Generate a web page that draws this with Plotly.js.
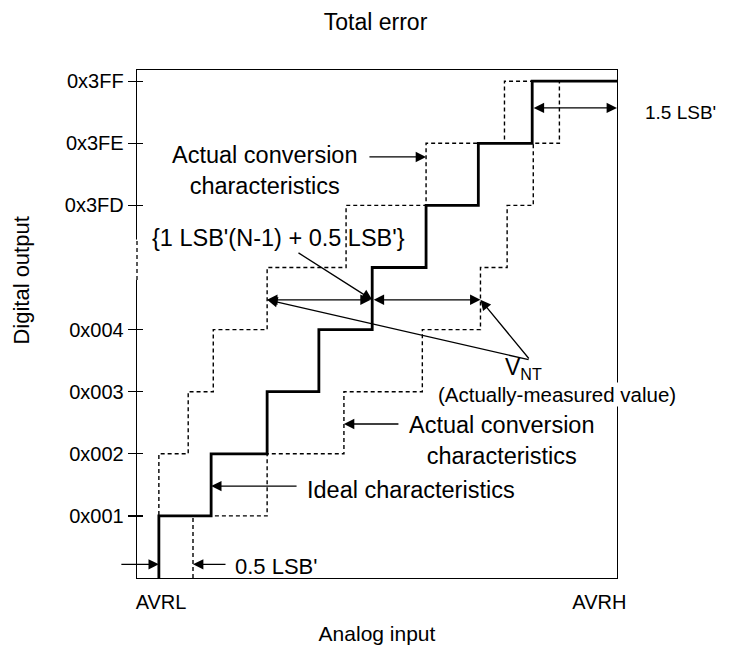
<!DOCTYPE html>
<html>
<head>
<meta charset="utf-8">
<script src="https://cdn.plot.ly/plotly-3.0.1.min.js"></script>
<style>html,body{margin:0;padding:0;background:#fff;}#chart{width:733px;height:658px;}</style>
</head>
<body>
<div id="chart"></div>
<script>
// ---- data (x in LSB' units from AVRL, y in output code levels) ----
const levels = [0, 1, 2, 3, 4, 5, 6, 7, 8];
const idealX = [0.41, 1.39, 2.44, 3.41, 4.41, 5.42, 6.40, 7.41, 9];
const actualUpperX = [0.41, 0.41, 0.96, 1.43, 2.44, 3.92, 5.42, 6.89, 9];
const actualLowerX = [1.05, 2.44, 3.88, 5.35, 6.44, 6.94, 7.43, 7.92, 9];
const yTickVals = [1, 2, 3, 4, 6, 7, 8];
const yTickText = ['0x001', '0x002', '0x003', '0x004', '0x3FD', '0x3FE', '0x3FF'];
const xTickVals = [0.45, 8.67];
const xTickText = ['AVRL', 'AVRH'];

const FONT = 'Liberation Sans, Arial, sans-serif';
const dashStyle = '4px,3px';
function f(size) { return {family: FONT, size: size, color: '#000'}; }

const traces = [
  {x: actualUpperX, y: levels, mode: 'lines', line: {shape: 'vh', color: '#000', width: 1.4, dash: dashStyle}, hoverinfo: 'skip'},
  {x: actualLowerX, y: levels, mode: 'lines', line: {shape: 'vh', color: '#000', width: 1.4, dash: dashStyle}, hoverinfo: 'skip'},
  {x: idealX, y: levels, mode: 'lines', line: {shape: 'vh', color: '#000', width: 2.8}, hoverinfo: 'skip'}
];

const AS = 1.6;
const arrowBase = {showarrow: true, arrowhead: 2, arrowsize: AS, arrowwidth: 1.3, arrowcolor: '#000', standoff: 0, startstandoff: 0, text: ''};
const dbl = {arrowside: 'end+start', startarrowhead: 2, startarrowsize: AS};
const vntY = 4.48;
const annotations = [
  // double arrows around the 4 -> 5 transition
  Object.assign({}, arrowBase, dbl, {x: actualUpperX[4], y: vntY, ax: idealX[4], ay: vntY, axref: 'x', ayref: 'y'}),
  Object.assign({}, arrowBase, dbl, {x: actualLowerX[4], y: vntY, ax: idealX[4], ay: vntY, axref: 'x', ayref: 'y'}),
  // 1.5 LSB' arrow
  Object.assign({}, arrowBase, dbl, {x: 9, y: 7.57, ax: idealX[7], ay: 7.57, axref: 'x', ayref: 'y'}),
  // V_NT pointers
  Object.assign({}, arrowBase, {x: actualUpperX[4], y: vntY, ax: 7.37, ay: 3.51, axref: 'x', ayref: 'y'}),
  Object.assign({}, arrowBase, {x: actualLowerX[4], y: vntY, ax: 7.37, ay: 3.51, axref: 'x', ayref: 'y'}),
  // {1 LSB'(N-1)+0.5 LSB'} pointer
  Object.assign({}, arrowBase, {x: idealX[4], y: vntY, ax: 3.0, ay: 5.25, axref: 'x', ayref: 'y'}),
  // upper actual conversion pointer
  Object.assign({}, arrowBase, {x: actualUpperX[6], y: 6.78, ax: 4.33, ay: 6.78, axref: 'x', ayref: 'y'}),
  // lower actual conversion pointer
  Object.assign({}, arrowBase, {x: actualLowerX[2], y: 2.48, ax: 4.93, ay: 2.48, axref: 'x', ayref: 'y'}),
  // ideal pointer
  Object.assign({}, arrowBase, {x: idealX[1], y: 1.48, ax: 3.02, ay: 1.48, axref: 'x', ayref: 'y'}),
  // 0.5 LSB' pointers
  Object.assign({}, arrowBase, {x: idealX[0], y: 0.22, ax: -39, ay: 0}),
  Object.assign({}, arrowBase, {x: actualLowerX[0], y: 0.22, ax: 34, ay: 0}),
  // texts
  {x: 2.40, y: 6.56, xref: 'x', yref: 'y', xanchor: 'center', text: 'Actual conversion<br>characteristics', showarrow: false, font: f(23.5)},
  {x: 0.24, y: 5.48, xref: 'x', yref: 'y', xanchor: 'left', text: "{1 LSB'(N-1) + 0.5 LSB'}", showarrow: false, font: f(23.5)},
  {x: 6.87, y: 3.37, xref: 'x', yref: 'y', xanchor: 'left', text: 'V<sub>NT</sub>', showarrow: false, font: f(23)},
  {x: 7.87, y: 2.95, xref: 'x', yref: 'y', xanchor: 'center', text: '(Actually-measured value)', showarrow: false, bgcolor: '#fff', borderpad: 0, font: f(20.5)},
  {x: 6.85, y: 2.22, xref: 'x', yref: 'y', xanchor: 'center', text: 'Actual conversion<br>characteristics', showarrow: false, font: f(23.5)},
  {x: 3.15, y: 1.42, xref: 'x', yref: 'y', xanchor: 'left', text: 'Ideal characteristics', showarrow: false, font: f(23.5)},
  {x: 1.80, y: 0.19, xref: 'x', yref: 'y', xanchor: 'left', text: "0.5 LSB'", showarrow: false, font: f(22)},
  {x: 1.054, y: 7.49, xref: 'paper', yref: 'y', xanchor: 'left', text: "1.5 LSB'", showarrow: false, font: f(19)},
  // y axis title
  {x: -0.24, y: 0.585, xref: 'paper', yref: 'paper', xanchor: 'center', yanchor: 'middle', text: 'Digital output', textangle: -90, showarrow: false, font: f(22)}
];

const shapes = [
  {type: 'line', xref: 'paper', yref: 'y', x0: 0, x1: 0, y0: 4.80, y1: 5.45, line: {color: '#fff', width: 4}, layer: 'above'},
  {type: 'line', xref: 'paper', yref: 'y', x0: 0, x1: 0, y0: 4.80, y1: 5.45, line: {color: '#000', width: 1.3, dash: dashStyle}, layer: 'above'}
];

const layout = {
  width: 733, height: 658,
  margin: {l: 137, r: 116, t: 70, b: 80},
  paper_bgcolor: '#fff', plot_bgcolor: '#fff',
  showlegend: false,
  font: f(21),
  title: {text: 'Total error', x: 0.497, xref: 'paper', y: 0.967, yref: 'container', yanchor: 'middle', font: f(23)},
  xaxis: {
    range: [0, 9], showgrid: false, zeroline: false,
    showline: true, mirror: true, linecolor: '#000', linewidth: 1.3,
    tickmode: 'array', tickvals: xTickVals, ticktext: xTickText, ticks: '', ticklabelstandoff: 6,
    tickfont: f(20),
    title: {text: 'Analog input', standoff: 14, font: f(21)}
  },
  yaxis: {
    range: [0, 8.18], showgrid: false, zeroline: false,
    showline: true, mirror: true, linecolor: '#000', linewidth: 1.3,
    tickmode: 'array', tickvals: yTickVals, ticktext: yTickText,
    ticks: 'outside', ticklen: 8, tickwidth: 1.3, tickcolor: '#000',
    tickfont: f(20)
  },
  yaxis2: {
    overlaying: 'y', side: 'left', range: [0, 8.18], showgrid: false, zeroline: false,
    showline: false, tickmode: 'array', tickvals: yTickVals, ticks: 'inside', ticklen: 6,
    tickwidth: 1.3, tickcolor: '#000', showticklabels: false
  },
  shapes: shapes,
  annotations: annotations
};

// invisible trace so that the inner tick marks of yaxis2 are drawn
traces.push({x: [0], y: [0], yaxis: 'y2', mode: 'markers', marker: {opacity: 0}, hoverinfo: 'skip'});

Plotly.newPlot('chart', traces, layout, {staticPlot: true, displayModeBar: false});
</script>
</body>
</html>
